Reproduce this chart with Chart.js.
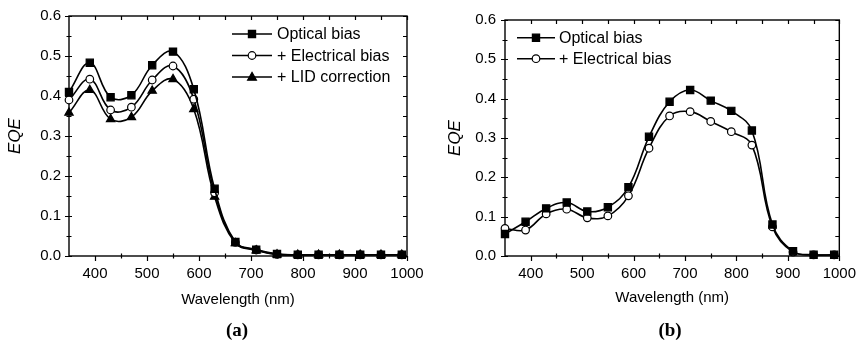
<!DOCTYPE html>
<html><head><meta charset="utf-8">
<script src="https://cdn.jsdelivr.net/npm/chart.js@4/dist/chart.umd.min.js"></script>
<style>
html,body{margin:0;padding:0;background:#fff;width:857px;height:350px;overflow:hidden;}
.wrap{position:absolute;top:0;}
.lbl{position:absolute;font:bold 19px "Liberation Serif","Times New Roman",serif;line-height:20px;color:#000;transform:translateX(-50%);}
</style></head><body>
<div class="wrap" style="left:0;"><canvas id="ca" width="428" height="320"></canvas></div>
<div class="wrap" style="left:430px;"><canvas id="cb" width="427" height="320"></canvas></div>
<div class="lbl" style="left:237px;top:320px">(a)</div>
<div class="lbl" style="left:670px;top:320px">(b)</div>
<script>
// ---- data ----
const wavelengths = [350,390,430,470,510,550,590,630,670,710,750,790,830,870,910,950,990];
const opticalA    = [0.410,0.483,0.397,0.402,0.477,0.511,0.417,0.168,0.035,0.016,0.005,0.003,0.003,0.003,0.003,0.003,0.003];
const electricalA = [0.390,0.442,0.365,0.372,0.440,0.475,0.392,0.158,0.034,0.015,0.004,0.003,0.003,0.003,0.003,0.003,0.003];
const lidA        = [0.358,0.415,0.342,0.347,0.413,0.442,0.367,0.148,0.032,0.014,0.004,0.003,0.003,0.003,0.003,0.003,0.003];
const opticalB    = [0.056,0.087,0.121,0.136,0.113,0.124,0.175,0.303,0.392,0.422,0.395,0.369,0.319,0.080,0.012,0.003,0.003];
const electricalB = [0.070,0.066,0.107,0.119,0.097,0.102,0.153,0.274,0.356,0.367,0.342,0.316,0.282,0.074,0.010,0.003,0.003];
const seriesNamesA = ['Optical bias','+ Electrical bias','+ LID correction'];
const seriesNamesB = ['Optical bias','+ Electrical bias'];
const xTickLabels = [400,500,600,700,800,900,1000];
const xMinorTicks = [450,550,650,750,850,950];
const yTickLabels = [0,0.1,0.2,0.3,0.4,0.5,0.6];
const yMinorTicks = [0.05,0.15,0.25,0.35,0.45,0.55];
const xTitle = 'Wavelength (nm)';
const yTitle = 'EQE';

const FONT = '"Liberation Sans", Arial, sans-serif';

function pts(vals){ return wavelengths.map((w,i)=>({x:w,y:vals[i]})); }

function drawMarker(ctx, style, x, y){
  ctx.save();
  ctx.lineWidth = 1.2;
  ctx.strokeStyle = '#000';
  ctx.beginPath();
  if (style === 'rect') {
    ctx.rect(x-3.6, y-3.6, 7.2, 7.2);
    ctx.fillStyle = '#000';
  } else if (style === 'circle') {
    ctx.arc(x, y, 3.8, 0, Math.PI*2);
    ctx.fillStyle = '#fff';
  } else {
    ctx.moveTo(x, y-4.6); ctx.lineTo(x+4.4, y+3.2); ctx.lineTo(x-4.4, y+3.2); ctx.closePath();
    ctx.fillStyle = '#000';
  }
  ctx.fill(); ctx.stroke();
  ctx.restore();
}

const frameTicks = {
  id: 'frameTicks',
  beforeDatasetsDraw(chart){
    const {ctx, chartArea:a, scales:{x, y}} = chart;
    ctx.save();
    ctx.strokeStyle = '#000';
    ctx.lineWidth = 1.4;
    ctx.strokeRect(a.left, a.top, a.right - a.left, a.bottom - a.top);
    ctx.lineWidth = 1.2;
    ctx.beginPath();
    xTickLabels.forEach(v => {
      const px = Math.round(x.getPixelForValue(v)) + 0.5;
      ctx.moveTo(px, a.bottom); ctx.lineTo(px, a.bottom + 5);
      ctx.moveTo(px, a.top); ctx.lineTo(px, a.top + 4);
    });
    xMinorTicks.forEach(v => {
      const px = Math.round(x.getPixelForValue(v)) + 0.5;
      ctx.moveTo(px, a.bottom - 2.5); ctx.lineTo(px, a.bottom + 2.5);
      ctx.moveTo(px, a.top); ctx.lineTo(px, a.top + 4);
    });
    yTickLabels.forEach(v => {
      const py = Math.round(y.getPixelForValue(v)) + 0.5;
      ctx.moveTo(a.left - 4, py); ctx.lineTo(a.left + 3, py);
      ctx.moveTo(a.right - 4, py); ctx.lineTo(a.right, py);
    });
    yMinorTicks.forEach(v => {
      const py = Math.round(y.getPixelForValue(v)) + 0.5;
      ctx.moveTo(a.left - 2.5, py); ctx.lineTo(a.left + 2.5, py);
      ctx.moveTo(a.right - 4, py); ctx.lineTo(a.right, py);
    });
    ctx.stroke();
    ctx.restore();
  }
};

const innerLegend = {
  id: 'innerLegend',
  afterDraw(chart, args, opts){
    const ctx = chart.ctx;
    ctx.save();
    ctx.font = '16px ' + FONT;
    ctx.fillStyle = '#000';
    ctx.textBaseline = 'middle';
    chart.data.datasets.forEach((ds, i) => {
      const yy = opts.y0 + i * opts.dy;
      ctx.strokeStyle = '#000';
      ctx.lineWidth = 1.6;
      ctx.beginPath(); ctx.moveTo(opts.x0, yy); ctx.lineTo(opts.x1, yy); ctx.stroke();
      drawMarker(ctx, ds.pointStyle, (opts.x0 + opts.x1) / 2, yy);
      ctx.fillText(ds.label, opts.tx, yy + 1);
    });
    ctx.restore();
  }
};

const markerStyles = ['rect','circle','triangle'];
const fills = ['#000','#fff','#000'];

function makeChart(id, seriesList, names, g){
  const datasets = seriesList.map((s, i) => ({
    label: names[i],
    data: pts(s),
    borderColor: '#000',
    borderWidth: 1.6,
    pointStyle: markerStyles[i],
    pointRadius: markerStyles[i] === 'rect' ? 5.1 : (markerStyles[i] === 'circle' ? 3.8 : 4.8),
    pointBackgroundColor: fills[i],
    pointBorderColor: '#000',
    pointBorderWidth: 1.2,
    tension: 0.4,
    fill: false,
    clip: false
  }));
  return new Chart(document.getElementById(id), {
    type: 'line',
    data: { datasets },
    plugins: [frameTicks, innerLegend],
    options: {
      responsive: false,
      animation: false,
      devicePixelRatio: 1,
      layout: { padding: { left: 0, top: g.top, right: g.right, bottom: 10 } },
      plugins: {
        legend: { display: false },
        tooltip: { enabled: false },
        innerLegend: g.legend
      },
      scales: {
        x: {
          type: 'linear', min: 350, max: 1000,
          afterBuildTicks: s => { s.ticks = xTickLabels.map(v => ({ value: v })); },
          afterFit: s => { s.height = 310 - g.bottom; },
          grid: { display: false }, border: { display: false },
          ticks: { color: '#000', font: { family: FONT, size: 15 }, padding: 1, maxRotation: 0, autoSkip: false, callback: v => String(v) },
          title: { display: true, text: xTitle, color: '#000', font: { family: FONT, size: 15 }, padding: { top: 0, bottom: g.xTitlePad } }
        },
        y: {
          type: 'linear', min: 0, max: 0.6,
          afterBuildTicks: s => { s.ticks = yTickLabels.map(v => ({ value: v })); },
          afterFit: s => { s.width = g.left; },
          grid: { display: false }, border: { display: false },
          ticks: { color: '#000', font: { family: FONT, size: 15 }, padding: g.yPad, callback: v => Number(v).toFixed(1) },
          title: { display: true, text: yTitle, color: '#000', font: { family: FONT, size: 17, style: 'italic' }, padding: { top: g.yTitlePad, bottom: 0 } }
        }
      }
    }
  });
}

makeChart('ca', [opticalA, electricalA, lidA], seriesNamesA,
  { left: 69, top: 16, right: 428 - 407, bottom: 256, xTitlePad: 1.6, yTitlePad: 5, yPad: 0,
    legend: { x0: 232, x1: 272, tx: 277, y0: 34, dy: 21.5 } });
makeChart('cb', [opticalB, electricalB], seriesNamesB,
  { left: 75, top: 20, right: 427 - 410, bottom: 256, xTitlePad: 3.6, yTitlePad: 15, yPad: 1,
    legend: { x0: 87, x1: 125, tx: 129, y0: 37.7, dy: 21 } });
</script>
</body></html>
